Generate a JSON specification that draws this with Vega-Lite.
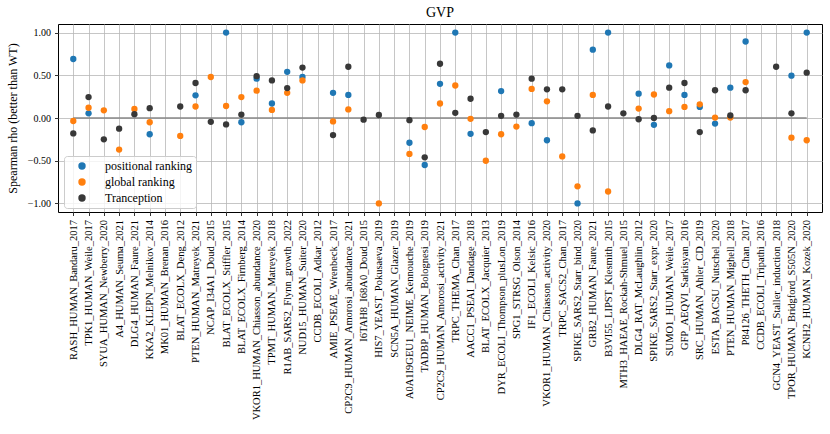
{
  "$schema": "https://vega.github.io/schema/vega-lite/v6.json",
  "width": 764,
  "height": 188,
  "autosize": {"type": "none"},
  "padding": {"left": 58, "top": 24, "right": 8, "bottom": 222},
  "background": "white",
  "config": {
    "font": "Liberation Serif",
    "view": {"stroke": "black", "strokeWidth": 1},
    "axis": {
      "domain": false,
      "grid": true,
      "gridColor": "#b8b8b8",
      "gridWidth": 0.8,
      "tickColor": "black",
      "tickSize": 3.5,
      "tickWidth": 0.8,
      "labelColor": "black",
      "titleColor": "black",
      "labelFont": "Liberation Serif",
      "titleFont": "Liberation Serif",
      "titleFontWeight": "normal",
      "zindex": 1
    },
    "legend": {
      "labelFont": "Liberation Serif",
      "labelFontSize": 12,
      "labelColor": "black"
    }
  },
  "title": {
    "text": "GVP",
    "fontSize": 14,
    "fontWeight": "normal",
    "font": "Liberation Serif",
    "color": "black",
    "offset": 4,
    "anchor": "middle"
  },
  "datasets": {
    "scores": [
      {"dataset": "RASH_HUMAN_Bandaru_2017", "method": "positional ranking", "rho": 0.69},
      {"dataset": "TPK1_HUMAN_Weile_2017", "method": "positional ranking", "rho": 0.055},
      {"dataset": "KKA2_KLEPN_Melnikov_2014", "method": "positional ranking", "rho": -0.19},
      {"dataset": "PTEN_HUMAN_Matreyek_2021", "method": "positional ranking", "rho": 0.265},
      {"dataset": "BLAT_ECOLX_Stiffler_2015", "method": "positional ranking", "rho": 1.0},
      {"dataset": "BLAT_ECOLX_Firnberg_2014", "method": "positional ranking", "rho": -0.05},
      {"dataset": "VKOR1_HUMAN_Chiasson_abundance_2020", "method": "positional ranking", "rho": 0.46},
      {"dataset": "TPMT_HUMAN_Matreyek_2018", "method": "positional ranking", "rho": 0.17},
      {"dataset": "R1AB_SARS2_Flynn_growth_2022", "method": "positional ranking", "rho": 0.54},
      {"dataset": "NUD15_HUMAN_Suiter_2020", "method": "positional ranking", "rho": 0.48},
      {"dataset": "AMIE_PSEAE_Wrenbeck_2017", "method": "positional ranking", "rho": 0.295},
      {"dataset": "CP2C9_HUMAN_Amorosi_abundance_2021", "method": "positional ranking", "rho": 0.27},
      {"dataset": "A0A1I9GEU1_NEIME_Kennouche_2019", "method": "positional ranking", "rho": -0.29},
      {"dataset": "TADBP_HUMAN_Bolognesi_2019", "method": "positional ranking", "rho": -0.55},
      {"dataset": "CP2C9_HUMAN_Amorosi_activity_2021", "method": "positional ranking", "rho": 0.4},
      {"dataset": "TRPC_THEMA_Chan_2017", "method": "positional ranking", "rho": 1.0},
      {"dataset": "AACC1_PSEAI_Dandage_2018", "method": "positional ranking", "rho": -0.185},
      {"dataset": "DYR_ECOLI_Thompson_plusLon_2019", "method": "positional ranking", "rho": 0.315},
      {"dataset": "IF1_ECOLI_Kelsic_2016", "method": "positional ranking", "rho": -0.06},
      {"dataset": "VKOR1_HUMAN_Chiasson_activity_2020", "method": "positional ranking", "rho": -0.26},
      {"dataset": "SPIKE_SARS2_Starr_bind_2020", "method": "positional ranking", "rho": -1.0},
      {"dataset": "GRB2_HUMAN_Faure_2021", "method": "positional ranking", "rho": 0.8},
      {"dataset": "B3VI55_LIPST_Klesmith_2015", "method": "positional ranking", "rho": 1.0},
      {"dataset": "DLG4_RAT_McLaughlin_2012", "method": "positional ranking", "rho": 0.285},
      {"dataset": "SPIKE_SARS2_Starr_expr_2020", "method": "positional ranking", "rho": -0.08},
      {"dataset": "SUMO1_HUMAN_Weile_2017", "method": "positional ranking", "rho": 0.615},
      {"dataset": "GFP_AEQVI_Sarkisyan_2016", "method": "positional ranking", "rho": 0.27},
      {"dataset": "SRC_HUMAN_Ahler_CD_2019", "method": "positional ranking", "rho": 0.13},
      {"dataset": "ESTA_BACSU_Nutschel_2020", "method": "positional ranking", "rho": -0.065},
      {"dataset": "PTEN_HUMAN_Mighell_2018", "method": "positional ranking", "rho": 0.355},
      {"dataset": "P84126_THETH_Chan_2017", "method": "positional ranking", "rho": 0.895},
      {"dataset": "TPOR_HUMAN_Bridgford_S505N_2020", "method": "positional ranking", "rho": 0.495},
      {"dataset": "KCNH2_HUMAN_Kozek_2020", "method": "positional ranking", "rho": 1.0},

      {"dataset": "RASH_HUMAN_Bandaru_2017", "method": "global ranking", "rho": -0.035},
      {"dataset": "TPK1_HUMAN_Weile_2017", "method": "global ranking", "rho": 0.12},
      {"dataset": "SYUA_HUMAN_Newberry_2020", "method": "global ranking", "rho": 0.09},
      {"dataset": "A4_HUMAN_Seuma_2021", "method": "global ranking", "rho": -0.37},
      {"dataset": "DLG4_HUMAN_Faure_2021", "method": "global ranking", "rho": 0.105},
      {"dataset": "KKA2_KLEPN_Melnikov_2014", "method": "global ranking", "rho": -0.05},
      {"dataset": "BLAT_ECOLX_Deng_2012", "method": "global ranking", "rho": -0.21},
      {"dataset": "PTEN_HUMAN_Matreyek_2021", "method": "global ranking", "rho": 0.135},
      {"dataset": "NCAP_I34A1_Doud_2015", "method": "global ranking", "rho": 0.48},
      {"dataset": "BLAT_ECOLX_Stiffler_2015", "method": "global ranking", "rho": 0.14},
      {"dataset": "BLAT_ECOLX_Firnberg_2014", "method": "global ranking", "rho": 0.245},
      {"dataset": "VKOR1_HUMAN_Chiasson_abundance_2020", "method": "global ranking", "rho": 0.32},
      {"dataset": "TPMT_HUMAN_Matreyek_2018", "method": "global ranking", "rho": 0.095},
      {"dataset": "R1AB_SARS2_Flynn_growth_2022", "method": "global ranking", "rho": 0.295},
      {"dataset": "NUD15_HUMAN_Suiter_2020", "method": "global ranking", "rho": 0.44},
      {"dataset": "AMIE_PSEAE_Wrenbeck_2017", "method": "global ranking", "rho": -0.04},
      {"dataset": "CP2C9_HUMAN_Amorosi_abundance_2021", "method": "global ranking", "rho": 0.1},
      {"dataset": "HIS7_YEAST_Pokusaeva_2019", "method": "global ranking", "rho": -1.0},
      {"dataset": "A0A1I9GEU1_NEIME_Kennouche_2019", "method": "global ranking", "rho": -0.42},
      {"dataset": "TADBP_HUMAN_Bolognesi_2019", "method": "global ranking", "rho": -0.105},
      {"dataset": "CP2C9_HUMAN_Amorosi_activity_2021", "method": "global ranking", "rho": 0.17},
      {"dataset": "TRPC_THEMA_Chan_2017", "method": "global ranking", "rho": 0.38},
      {"dataset": "AACC1_PSEAI_Dandage_2018", "method": "global ranking", "rho": -0.01},
      {"dataset": "BLAT_ECOLX_Jacquier_2013", "method": "global ranking", "rho": -0.5},
      {"dataset": "DYR_ECOLI_Thompson_plusLon_2019", "method": "global ranking", "rho": -0.19},
      {"dataset": "SPG1_STRSG_Olson_2014", "method": "global ranking", "rho": -0.1},
      {"dataset": "IF1_ECOLI_Kelsic_2016", "method": "global ranking", "rho": 0.34},
      {"dataset": "VKOR1_HUMAN_Chiasson_activity_2020", "method": "global ranking", "rho": 0.195},
      {"dataset": "TRPC_SACS2_Chan_2017", "method": "global ranking", "rho": -0.45},
      {"dataset": "SPIKE_SARS2_Starr_bind_2020", "method": "global ranking", "rho": -0.8},
      {"dataset": "GRB2_HUMAN_Faure_2021", "method": "global ranking", "rho": 0.27},
      {"dataset": "B3VI55_LIPST_Klesmith_2015", "method": "global ranking", "rho": -0.86},
      {"dataset": "DLG4_RAT_McLaughlin_2012", "method": "global ranking", "rho": 0.11},
      {"dataset": "SPIKE_SARS2_Starr_expr_2020", "method": "global ranking", "rho": 0.275},
      {"dataset": "SUMO1_HUMAN_Weile_2017", "method": "global ranking", "rho": 0.08},
      {"dataset": "GFP_AEQVI_Sarkisyan_2016", "method": "global ranking", "rho": 0.13},
      {"dataset": "SRC_HUMAN_Ahler_CD_2019", "method": "global ranking", "rho": 0.16},
      {"dataset": "ESTA_BACSU_Nutschel_2020", "method": "global ranking", "rho": 0.005},
      {"dataset": "PTEN_HUMAN_Mighell_2018", "method": "global ranking", "rho": 0.005},
      {"dataset": "P84126_THETH_Chan_2017", "method": "global ranking", "rho": 0.42},
      {"dataset": "TPOR_HUMAN_Bridgford_S505N_2020", "method": "global ranking", "rho": -0.23},
      {"dataset": "KCNH2_HUMAN_Kozek_2020", "method": "global ranking", "rho": -0.26},

      {"dataset": "RASH_HUMAN_Bandaru_2017", "method": "Tranception", "rho": -0.18},
      {"dataset": "TPK1_HUMAN_Weile_2017", "method": "Tranception", "rho": 0.245},
      {"dataset": "SYUA_HUMAN_Newberry_2020", "method": "Tranception", "rho": -0.25},
      {"dataset": "A4_HUMAN_Seuma_2021", "method": "Tranception", "rho": -0.125},
      {"dataset": "DLG4_HUMAN_Faure_2021", "method": "Tranception", "rho": 0.045},
      {"dataset": "KKA2_KLEPN_Melnikov_2014", "method": "Tranception", "rho": 0.115},
      {"dataset": "BLAT_ECOLX_Deng_2012", "method": "Tranception", "rho": 0.135},
      {"dataset": "PTEN_HUMAN_Matreyek_2021", "method": "Tranception", "rho": 0.41},
      {"dataset": "NCAP_I34A1_Doud_2015", "method": "Tranception", "rho": -0.045},
      {"dataset": "BLAT_ECOLX_Stiffler_2015", "method": "Tranception", "rho": -0.075},
      {"dataset": "BLAT_ECOLX_Firnberg_2014", "method": "Tranception", "rho": 0.04},
      {"dataset": "VKOR1_HUMAN_Chiasson_abundance_2020", "method": "Tranception", "rho": 0.49},
      {"dataset": "TPMT_HUMAN_Matreyek_2018", "method": "Tranception", "rho": 0.44},
      {"dataset": "R1AB_SARS2_Flynn_growth_2022", "method": "Tranception", "rho": 0.35},
      {"dataset": "NUD15_HUMAN_Suiter_2020", "method": "Tranception", "rho": 0.59},
      {"dataset": "AMIE_PSEAE_Wrenbeck_2017", "method": "Tranception", "rho": -0.2},
      {"dataset": "CP2C9_HUMAN_Amorosi_abundance_2021", "method": "Tranception", "rho": 0.6},
      {"dataset": "I6TAH8_I68A0_Doud_2015", "method": "Tranception", "rho": -0.02},
      {"dataset": "HIS7_YEAST_Pokusaeva_2019", "method": "Tranception", "rho": 0.035},
      {"dataset": "A0A1I9GEU1_NEIME_Kennouche_2019", "method": "Tranception", "rho": -0.025},
      {"dataset": "TADBP_HUMAN_Bolognesi_2019", "method": "Tranception", "rho": -0.46},
      {"dataset": "CP2C9_HUMAN_Amorosi_activity_2021", "method": "Tranception", "rho": 0.635},
      {"dataset": "TRPC_THEMA_Chan_2017", "method": "Tranception", "rho": 0.06},
      {"dataset": "AACC1_PSEAI_Dandage_2018", "method": "Tranception", "rho": 0.225},
      {"dataset": "BLAT_ECOLX_Jacquier_2013", "method": "Tranception", "rho": -0.165},
      {"dataset": "DYR_ECOLI_Thompson_plusLon_2019", "method": "Tranception", "rho": 0.025},
      {"dataset": "SPG1_STRSG_Olson_2014", "method": "Tranception", "rho": 0.04},
      {"dataset": "IF1_ECOLI_Kelsic_2016", "method": "Tranception", "rho": 0.46},
      {"dataset": "VKOR1_HUMAN_Chiasson_activity_2020", "method": "Tranception", "rho": 0.335},
      {"dataset": "TRPC_SACS2_Chan_2017", "method": "Tranception", "rho": 0.335},
      {"dataset": "SPIKE_SARS2_Starr_bind_2020", "method": "Tranception", "rho": 0.025},
      {"dataset": "GRB2_HUMAN_Faure_2021", "method": "Tranception", "rho": -0.145},
      {"dataset": "B3VI55_LIPST_Klesmith_2015", "method": "Tranception", "rho": 0.135},
      {"dataset": "MTH3_HAEAE_Rockah-Shmuel_2015", "method": "Tranception", "rho": 0.055},
      {"dataset": "DLG4_RAT_McLaughlin_2012", "method": "Tranception", "rho": -0.015},
      {"dataset": "SPIKE_SARS2_Starr_expr_2020", "method": "Tranception", "rho": 0.0},
      {"dataset": "SUMO1_HUMAN_Weile_2017", "method": "Tranception", "rho": 0.355},
      {"dataset": "GFP_AEQVI_Sarkisyan_2016", "method": "Tranception", "rho": 0.41},
      {"dataset": "SRC_HUMAN_Ahler_CD_2019", "method": "Tranception", "rho": -0.165},
      {"dataset": "ESTA_BACSU_Nutschel_2020", "method": "Tranception", "rho": 0.325},
      {"dataset": "PTEN_HUMAN_Mighell_2018", "method": "Tranception", "rho": 0.03},
      {"dataset": "P84126_THETH_Chan_2017", "method": "Tranception", "rho": 0.325},
      {"dataset": "GCN4_YEAST_Staller_induction_2018", "method": "Tranception", "rho": 0.6},
      {"dataset": "TPOR_HUMAN_Bridgford_S505N_2020", "method": "Tranception", "rho": 0.055},
      {"dataset": "KCNH2_HUMAN_Kozek_2020", "method": "Tranception", "rho": 0.53}
    ],
    "zeroline": [
      {"start": "RASH_HUMAN_Bandaru_2017", "end": "KCNH2_HUMAN_Kozek_2020", "rho": 0}
    ]
  },
  "layer": [
    {
      "data": {"name": "zeroline"},
      "mark": {"type": "rule", "color": "#888888", "strokeWidth": 1.5},
      "encoding": {
        "x": {"field": "start", "type": "nominal"},
        "x2": {"field": "end"},
        "y": {"field": "rho", "type": "quantitative"}
      }
    },
    {
      "data": {"name": "scores"},
      "mark": {"type": "point", "filled": true, "size": 40, "opacity": 1, "strokeWidth": 0},
      "encoding": {
        "x": {
          "field": "dataset",
          "type": "nominal",
          "scale": {
            "type": "point",
            "padding": 2.4,
            "domain": [
              "RASH_HUMAN_Bandaru_2017", "TPK1_HUMAN_Weile_2017", "SYUA_HUMAN_Newberry_2020",
              "A4_HUMAN_Seuma_2021", "DLG4_HUMAN_Faure_2021", "KKA2_KLEPN_Melnikov_2014",
              "MK01_HUMAN_Brenan_2016", "BLAT_ECOLX_Deng_2012", "PTEN_HUMAN_Matreyek_2021",
              "NCAP_I34A1_Doud_2015", "BLAT_ECOLX_Stiffler_2015", "BLAT_ECOLX_Firnberg_2014",
              "VKOR1_HUMAN_Chiasson_abundance_2020", "TPMT_HUMAN_Matreyek_2018",
              "R1AB_SARS2_Flynn_growth_2022", "NUD15_HUMAN_Suiter_2020", "CCDB_ECOLI_Adkar_2012",
              "AMIE_PSEAE_Wrenbeck_2017", "CP2C9_HUMAN_Amorosi_abundance_2021",
              "I6TAH8_I68A0_Doud_2015", "HIS7_YEAST_Pokusaeva_2019", "SCN5A_HUMAN_Glazer_2019",
              "A0A1I9GEU1_NEIME_Kennouche_2019", "TADBP_HUMAN_Bolognesi_2019",
              "CP2C9_HUMAN_Amorosi_activity_2021", "TRPC_THEMA_Chan_2017", "AACC1_PSEAI_Dandage_2018",
              "BLAT_ECOLX_Jacquier_2013", "DYR_ECOLI_Thompson_plusLon_2019", "SPG1_STRSG_Olson_2014",
              "IF1_ECOLI_Kelsic_2016", "VKOR1_HUMAN_Chiasson_activity_2020", "TRPC_SACS2_Chan_2017",
              "SPIKE_SARS2_Starr_bind_2020", "GRB2_HUMAN_Faure_2021", "B3VI55_LIPST_Klesmith_2015",
              "MTH3_HAEAE_Rockah-Shmuel_2015", "DLG4_RAT_McLaughlin_2012",
              "SPIKE_SARS2_Starr_expr_2020", "SUMO1_HUMAN_Weile_2017", "GFP_AEQVI_Sarkisyan_2016",
              "SRC_HUMAN_Ahler_CD_2019", "ESTA_BACSU_Nutschel_2020", "PTEN_HUMAN_Mighell_2018",
              "P84126_THETH_Chan_2017", "CCDB_ECOLI_Tripathi_2016", "GCN4_YEAST_Staller_induction_2018",
              "TPOR_HUMAN_Bridgford_S505N_2020", "KCNH2_HUMAN_Kozek_2020"
            ]
          },
          "axis": {
            "title": null,
            "labelAngle": -90,
            "labelFontSize": 10.5,
            "labelPadding": 4,
            "labelOverlap": false,
            "labelLimit": 400
          }
        },
        "y": {
          "field": "rho",
          "type": "quantitative",
          "scale": {"domain": [-1.1, 1.1], "nice": false, "zero": false},
          "axis": {
            "title": "Spearman rho (better than WT)",
            "titleFontSize": 12,
            "titlePadding": 8,
            "labelFontSize": 10,
            "labelPadding": 4,
            "values": [-1, -0.75, -0.5, -0.25, 0, 0.25, 0.5, 0.75, 1],
            "format": ".2f"
          }
        },
        "color": {
          "field": "method",
          "type": "nominal",
          "scale": {
            "domain": ["positional ranking", "global ranking", "Tranception"],
            "range": ["#1f77b4", "#ff7f0e", "#383838"]
          },
          "legend": {
            "title": null,
            "orient": "none",
            "legendX": 6,
            "legendY": 132,
            "symbolType": "circle",
            "symbolSize": 55,
            "symbolStrokeWidth": 0,
            "symbolOffset": 8,
            "labelOffset": 17,
            "rowPadding": 4,
            "padding": 4,
            "fillColor": "rgba(255,255,255,0.8)",
            "strokeColor": "#cccccc",
            "cornerRadius": 3
          }
        }
      }
    }
  ]
}
